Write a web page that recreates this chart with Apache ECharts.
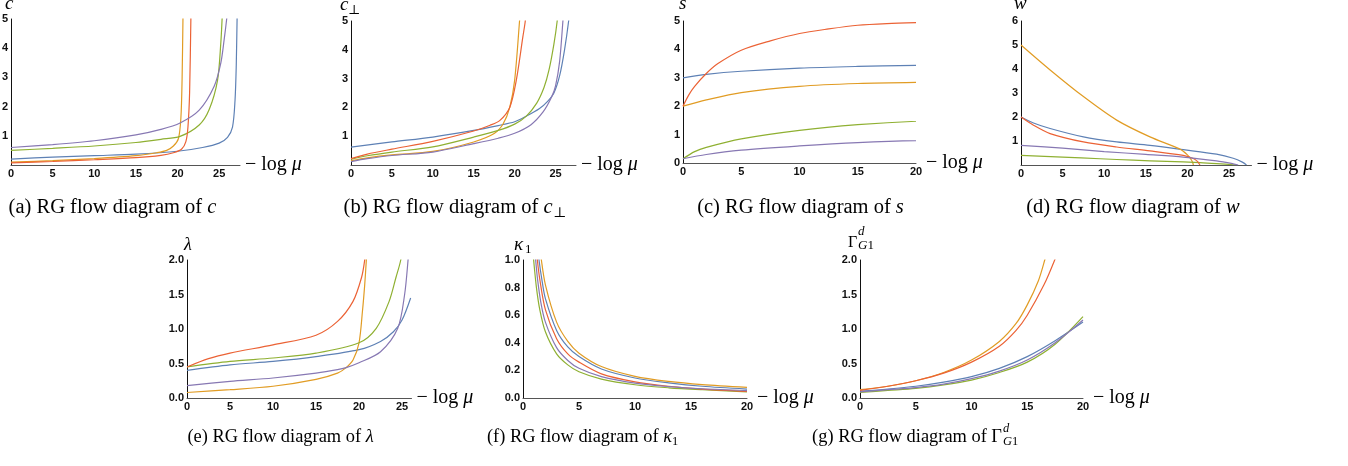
<!DOCTYPE html>
<html>
<head>
<meta charset="utf-8">
<script src="https://cdn.jsdelivr.net/npm/echarts@6/dist/echarts.min.js"></script>
<style>html,body{margin:0;padding:0;background:#fff}#c{width:1348px;height:466px}</style>
</head>
<body>
<div id="c"></div>
<script>
// ---- data (x = -log mu, y = coupling) ----
// (a) c
const c_blue   = [[0,0.2],[5,0.27],[10,0.32],[15,0.37],[20,0.47],[23,0.6],[25,0.75],[26,0.95],[26.6,1.3],[26.9,2.2],[27.05,3.4],[27.15,5],[27.2,5.6]];
const c_orange = [[0,0.1],[5,0.15],[10,0.22],[15,0.32],[17.5,0.42],[18.7,0.5],[19.5,0.65],[20.1,0.9],[20.4,1.6],[20.55,3],[20.65,5],[20.7,5.6]];
const c_green  = [[0,0.5],[5,0.57],[10,0.65],[15,0.77],[18,0.88],[20.3,0.98],[22.6,1.37],[23.8,1.9],[24.8,2.9],[25.2,4.2],[25.35,5],[25.45,5.6]];
const c_red    = [[0,0.07],[5,0.12],[10,0.18],[15,0.25],[18,0.33],[19.5,0.42],[20.5,0.55],[21,0.8],[21.25,1.3],[21.45,2.5],[21.6,5],[21.65,5.6]];
const c_purple = [[0,0.6],[5,0.7],[10,0.83],[15,1.03],[18,1.22],[20.3,1.44],[22.6,1.88],[24.4,2.7],[25.2,3.5],[25.6,4.3],[25.9,5],[26.1,5.6]];
// (b) c_perp
const cp_blue   = [[0,0.62],[5,0.8],[10,0.97],[15,1.2],[18,1.37],[20,1.5],[21.4,1.69],[23,1.95],[24,2.2],[24.8,2.5],[25.5,3.1],[26.1,4],[26.6,5],[26.8,5.6]];
const cp_orange = [[0,0.15],[2,0.25],[5,0.35],[10,0.47],[15,0.8],[17.5,1.09],[18.6,1.43],[19.4,2.0],[20,2.94],[20.6,5],[20.75,5.6]];
const cp_green  = [[0,0.2],[2,0.32],[5,0.45],[10,0.63],[15,0.97],[18,1.2],[20,1.42],[21.4,1.69],[22.7,2.15],[23.6,2.7],[24.2,3.3],[24.8,4.2],[25.2,5],[25.35,5.6]];
const cp_red    = [[0,0.22],[2,0.38],[5,0.55],[10,0.82],[15,1.18],[17,1.38],[18.2,1.55],[19.4,2.0],[20.2,2.94],[21,4.44],[21.3,5],[21.45,5.6]];
const cp_purple = [[0,0.12],[2,0.22],[5,0.33],[10,0.45],[15,0.74],[18,0.93],[20,1.1],[22,1.4],[23.5,1.85],[24.5,2.35],[25,2.75],[25.5,3.6],[25.9,5],[26.05,5.6]];
// (c) s
const s_blue   = [[0,3],[2,3.12],[5,3.23],[10,3.34],[15,3.4],[20,3.44]];
const s_orange = [[0,2],[2,2.22],[5,2.48],[10,2.7],[15,2.8],[20,2.84]];
const s_green  = [[0,0.15],[1,0.4],[2,0.55],[5,0.85],[10,1.15],[15,1.35],[20,1.47]];
const s_red    = [[0,2],[0.5,2.4],[1,2.7],[2,3.15],[3,3.5],[5,3.97],[7.5,4.3],[10,4.56],[12.5,4.72],[15,4.85],[17.5,4.91],[20,4.94]];
const s_purple = [[0,0.15],[2,0.3],[5,0.45],[10,0.6],[15,0.72],[20,0.79]];
// (d) w
const w_blue   = [[0,2],[1.5,1.75],[3.5,1.52],[7.5,1.17],[11.5,0.96],[15.5,0.82],[19.5,0.64],[23.5,0.45],[25.5,0.28],[26.6,0.12],[27.1,0]];
const w_orange = [[0,5],[3.5,3.96],[7.5,2.85],[11.5,1.87],[15.5,1.17],[19.1,0.66],[20,0.42],[20.5,0.2],[20.68,0.05],[20.7,0]];
const w_green  = [[0,0.4],[5,0.33],[9.5,0.26],[13.5,0.2],[17.5,0.15],[21.5,0.1],[23.5,0.06],[25.9,0]];
const w_red    = [[0,2],[1.5,1.66],[3.5,1.31],[7.5,0.96],[11.5,0.75],[15.5,0.59],[19.5,0.4],[20.7,0.27],[21.2,0.15],[21.45,0.03],[21.5,0]];
const w_purple = [[0,0.82],[5,0.7],[10,0.56],[15,0.44],[19.5,0.33],[23.5,0.17],[25.5,0.05],[26.1,0]];
// (e) lambda
const l_blue   = [[0,0.4],[5,0.48],[10,0.53],[15,0.6],[20,0.7],[22.5,0.82],[24,0.96],[25,1.13],[26,1.45]];
const l_orange = [[0,0.08],[5,0.12],[10,0.17],[15,0.27],[17.5,0.36],[18.5,0.44],[19.3,0.55],[20,0.8],[20.4,1.26],[20.66,1.64],[20.85,2],[20.95,2.2]];
const l_green  = [[0,0.45],[5,0.53],[10,0.58],[15,0.65],[20,0.8],[22,1.01],[23.5,1.4],[24.3,1.75],[24.85,2],[25,2.2]];
const l_red    = [[0,0.45],[2.5,0.57],[5,0.65],[10,0.77],[15,0.91],[17.5,1.11],[19.3,1.4],[20.3,1.75],[20.66,2],[20.8,2.2]];
const l_purple = [[0,0.18],[5,0.24],[10,0.29],[15,0.36],[17.5,0.41],[18.5,0.44],[20,0.51],[22.5,0.67],[24.5,1.01],[25.3,1.5],[25.7,2],[25.8,2.2]];
// (f) kappa_1
const k_blue   = [[1.35,1.08],[1.43,1],[1.7,0.85],[2,0.72],[3,0.49],[4,0.37],[5,0.3],[7,0.21],[10,0.145],[13,0.11],[16,0.085],[20,0.065]];
const k_orange = [[1.55,1.08],[1.64,1],[2,0.82],[3,0.55],[4,0.41],[5,0.325],[7,0.228],[10,0.157],[13,0.12],[16,0.097],[20,0.077]];
const k_green  = [[0.88,1.08],[0.95,1],[1.2,0.8],[1.5,0.64],[2,0.48],[3,0.32],[4,0.24],[5,0.19],[7,0.137],[10,0.096],[13,0.074],[16,0.06],[20,0.045]];
const k_red    = [[1.2,1.08],[1.28,1],[1.5,0.86],[2,0.64],[3,0.43],[4,0.32],[5,0.26],[7,0.175],[10,0.117],[13,0.085],[16,0.064],[20,0.048]];
const k_purple = [[1.05,1.08],[1.13,1],[1.3,0.86],[1.6,0.69],[2,0.55],[3,0.365],[4,0.272],[5,0.215],[7,0.155],[10,0.108],[13,0.083],[16,0.067],[20,0.054]];
// (g) Gamma^d_G1
const g_blue   = [[0,0.1],[2.5,0.13],[5,0.17],[7.5,0.23],[10,0.31],[12.5,0.43],[15,0.6],[17.5,0.83],[20,1.1]];
const g_orange = [[0,0.12],[2.5,0.17],[5,0.25],[7.5,0.37],[10,0.55],[12.5,0.82],[14,1.08],[15,1.35],[16,1.7],[16.57,2],[16.8,2.15]];
const g_green  = [[0,0.08],[2.5,0.11],[5,0.14],[7.5,0.19],[10,0.26],[12.5,0.37],[15,0.52],[17.5,0.78],[20,1.18]];
const g_red    = [[0,0.11],[2.5,0.17],[5,0.25],[7.5,0.36],[10,0.52],[12.5,0.75],[14,0.98],[15,1.2],[16.5,1.64],[17.46,2],[17.7,2.12]];
const g_purple = [[0,0.09],[2.5,0.12],[5,0.15],[7.5,0.2],[10,0.28],[12.5,0.39],[15,0.55],[17.5,0.8],[20,1.13]];

// axis ranges
const xMax = [27.5, 27.5, 20, 27.7, 26.1, 20, 20];
const yMax = [5, 5, 5, 6, 2, 1, 2];
const yStep = [1, 1, 1, 1, 0.5, 0.2, 0.5];
const yDecimals = [0, 0, 0, 0, 1, 1, 1];
const yShowZero = [false, false, true, false, true, true, true];

const COLORS = { blue:'#5E81B5', orange:'#E19C24', green:'#8FB032', red:'#EB6235', purple:'#8778B3' };
const panelSeries = [
  {blue:c_blue, orange:c_orange, green:c_green, red:c_red, purple:c_purple},
  {blue:cp_blue, orange:cp_orange, green:cp_green, red:cp_red, purple:cp_purple},
  {blue:s_blue, orange:s_orange, green:s_green, red:s_red, purple:s_purple},
  {blue:w_blue, orange:w_orange, green:w_green, red:w_red, purple:w_purple},
  {blue:l_blue, orange:l_orange, green:l_green, red:l_red, purple:l_purple},
  {blue:k_blue, orange:k_orange, green:k_green, red:k_red, purple:k_purple},
  {blue:g_blue, orange:g_orange, green:g_green, red:g_red, purple:g_purple}
];

// layout (pixels)
const grids = [
  {left:11,  top:19,  width:229,   height:146},
  {left:351, top:21,  width:225,   height:144},
  {left:683, top:21,  width:233,   height:142},
  {left:1021,top:21,  width:230.5, height:144},
  {left:187, top:260, width:224.5, height:138},
  {left:523, top:260, width:224,   height:138},
  {left:860, top:260, width:223,   height:138}
];

const SERIF = '"Liberation Serif","DejaVu Serif",serif';
const SANS = '"Liberation Sans",Arial,sans-serif';

const xAxes = grids.map((g,i)=>({
  type:'value', gridIndex:i, min:0, max:xMax[i], interval:5,
  axisLine:{show:true, onZero:true, lineStyle:{color:'#555', width:1}},
  axisTick:{show:false}, splitLine:{show:false},
  axisLabel:{margin:3, fontFamily:SANS, fontWeight:'bold', fontSize:11, color:'#111',
    formatter:v=> (Math.abs(v/5-Math.round(v/5))<1e-9 && v<=25) ? String(v) : ''},
  name:'\u2212 log {i|\u03bc}', nameLocation:'end', nameGap:5,
  nameTextStyle:{fontFamily:SERIF, fontSize:20, color:'#000', verticalAlign:'middle',
    rich:{i:{fontFamily:SERIF, fontSize:20, fontStyle:'italic', color:'#000'}}}
}));
const yAxes = grids.map((g,i)=>({
  type:'value', gridIndex:i, min:0, max:yMax[i], interval:yStep[i],
  axisLine:{show:true, lineStyle:{color:'#111', width:1}},
  axisTick:{show:false}, splitLine:{show:false},
  axisLabel:{margin:3, fontFamily:SANS, fontWeight:'bold', fontSize:11, color:'#111',
    formatter:v=> (v===0 && !yShowZero[i]) ? '' : v.toFixed(yDecimals[i])}
}));

const series = [];
panelSeries.forEach((p,i)=>{
  ['blue','orange','green','red','purple'].forEach(k=>{
    series.push({type:'line', xAxisIndex:i, yAxisIndex:i, data:p[k], showSymbol:false,
      smooth:0.3, clip:true,
      lineStyle:{color:COLORS[k], width:1.2}, itemStyle:{color:COLORS[k]}});
  });
});

function txt(x,y,text,opt){
  return Object.assign({type:'text', x:x, y:y, silent:true,
    style:Object.assign({text:text, fill:'#000', fontFamily:SERIF, fontSize:20.5,
      align:'left', verticalAlign:'middle'}, opt||{})});
}
const IT1 = {fontFamily:SERIF, fontStyle:'italic', fontSize:20.5, fill:'#000'};
const IT2 = {fontFamily:SERIF, fontStyle:'italic', fontSize:18.4, fill:'#000'};
const SUBG = {g:{fontStyle:'italic', fontSize:13, fontFamily:SERIF}};

const graphics = [
  // y-axis names
  txt(5,4,'c',{fontStyle:'italic',fontSize:19}),
  txt(340,5,'c',{fontStyle:'italic',fontSize:19}),
  txt(348,11,'\u22a5',{fontSize:13}),
  txt(679,4,'s',{fontStyle:'italic',fontSize:19}),
  txt(1014,4,'w',{fontStyle:'italic',fontSize:19}),
  txt(184,245,'\u03bb',{fontStyle:'italic',fontSize:18}),
  txt(514,245,'\u03ba',{fontStyle:'italic',fontSize:19}),
  txt(525,250,'1',{fontSize:13}),
  txt(848,243,'\u0393',{fontSize:16}),
  txt(858,232,'d',{fontStyle:'italic',fontSize:13}),
  txt(858,246,'{g|G}1',{fontSize:13, rich:SUBG}),
  // captions, row 1
  txt(112.5,208,'(a) RG flow diagram of {i|c}',{align:'center', rich:{i:IT1}}),
  txt(552.5,208,'(b) RG flow diagram of {i|c}',{align:'right', rich:{i:IT1}}),
  txt(553,213,'\u22a5',{fontSize:14}),
  txt(800.5,208,'(c) RG flow diagram of {i|s}',{align:'center', rich:{i:IT1}}),
  txt(1133,208,'(d) RG flow diagram of {i|w}',{align:'center', rich:{i:IT1}}),
  // captions, row 2
  txt(280.5,437,'(e) RG flow diagram of {i|\u03bb}',{align:'center', fontSize:18.4, rich:{i:IT2}}),
  txt(672,437,'(f) RG flow diagram of {i|\u03ba}',{align:'right', fontSize:18.4, rich:{i:IT2}}),
  txt(672,441.5,'1',{fontSize:12.5}),
  txt(1002,437,'(g) RG flow diagram of \u0393',{align:'right', fontSize:18.4}),
  txt(1003,429,'d',{fontStyle:'italic',fontSize:12.5}),
  txt(1003,442,'{g|G}1',{fontSize:12.5, rich:{g:{fontStyle:'italic',fontSize:12.5,fontFamily:SERIF}}})
];

const chart = echarts.init(document.getElementById('c'), null, {renderer:'canvas'});
chart.setOption({
  animation:false,
  backgroundColor:'#fff',
  grid: grids.map(g=>Object.assign({containLabel:false, outerBoundsMode:'none'}, g)),
  xAxis: xAxes,
  yAxis: yAxes,
  series: series,
  graphic: graphics
});
</script>
</body>
</html>
